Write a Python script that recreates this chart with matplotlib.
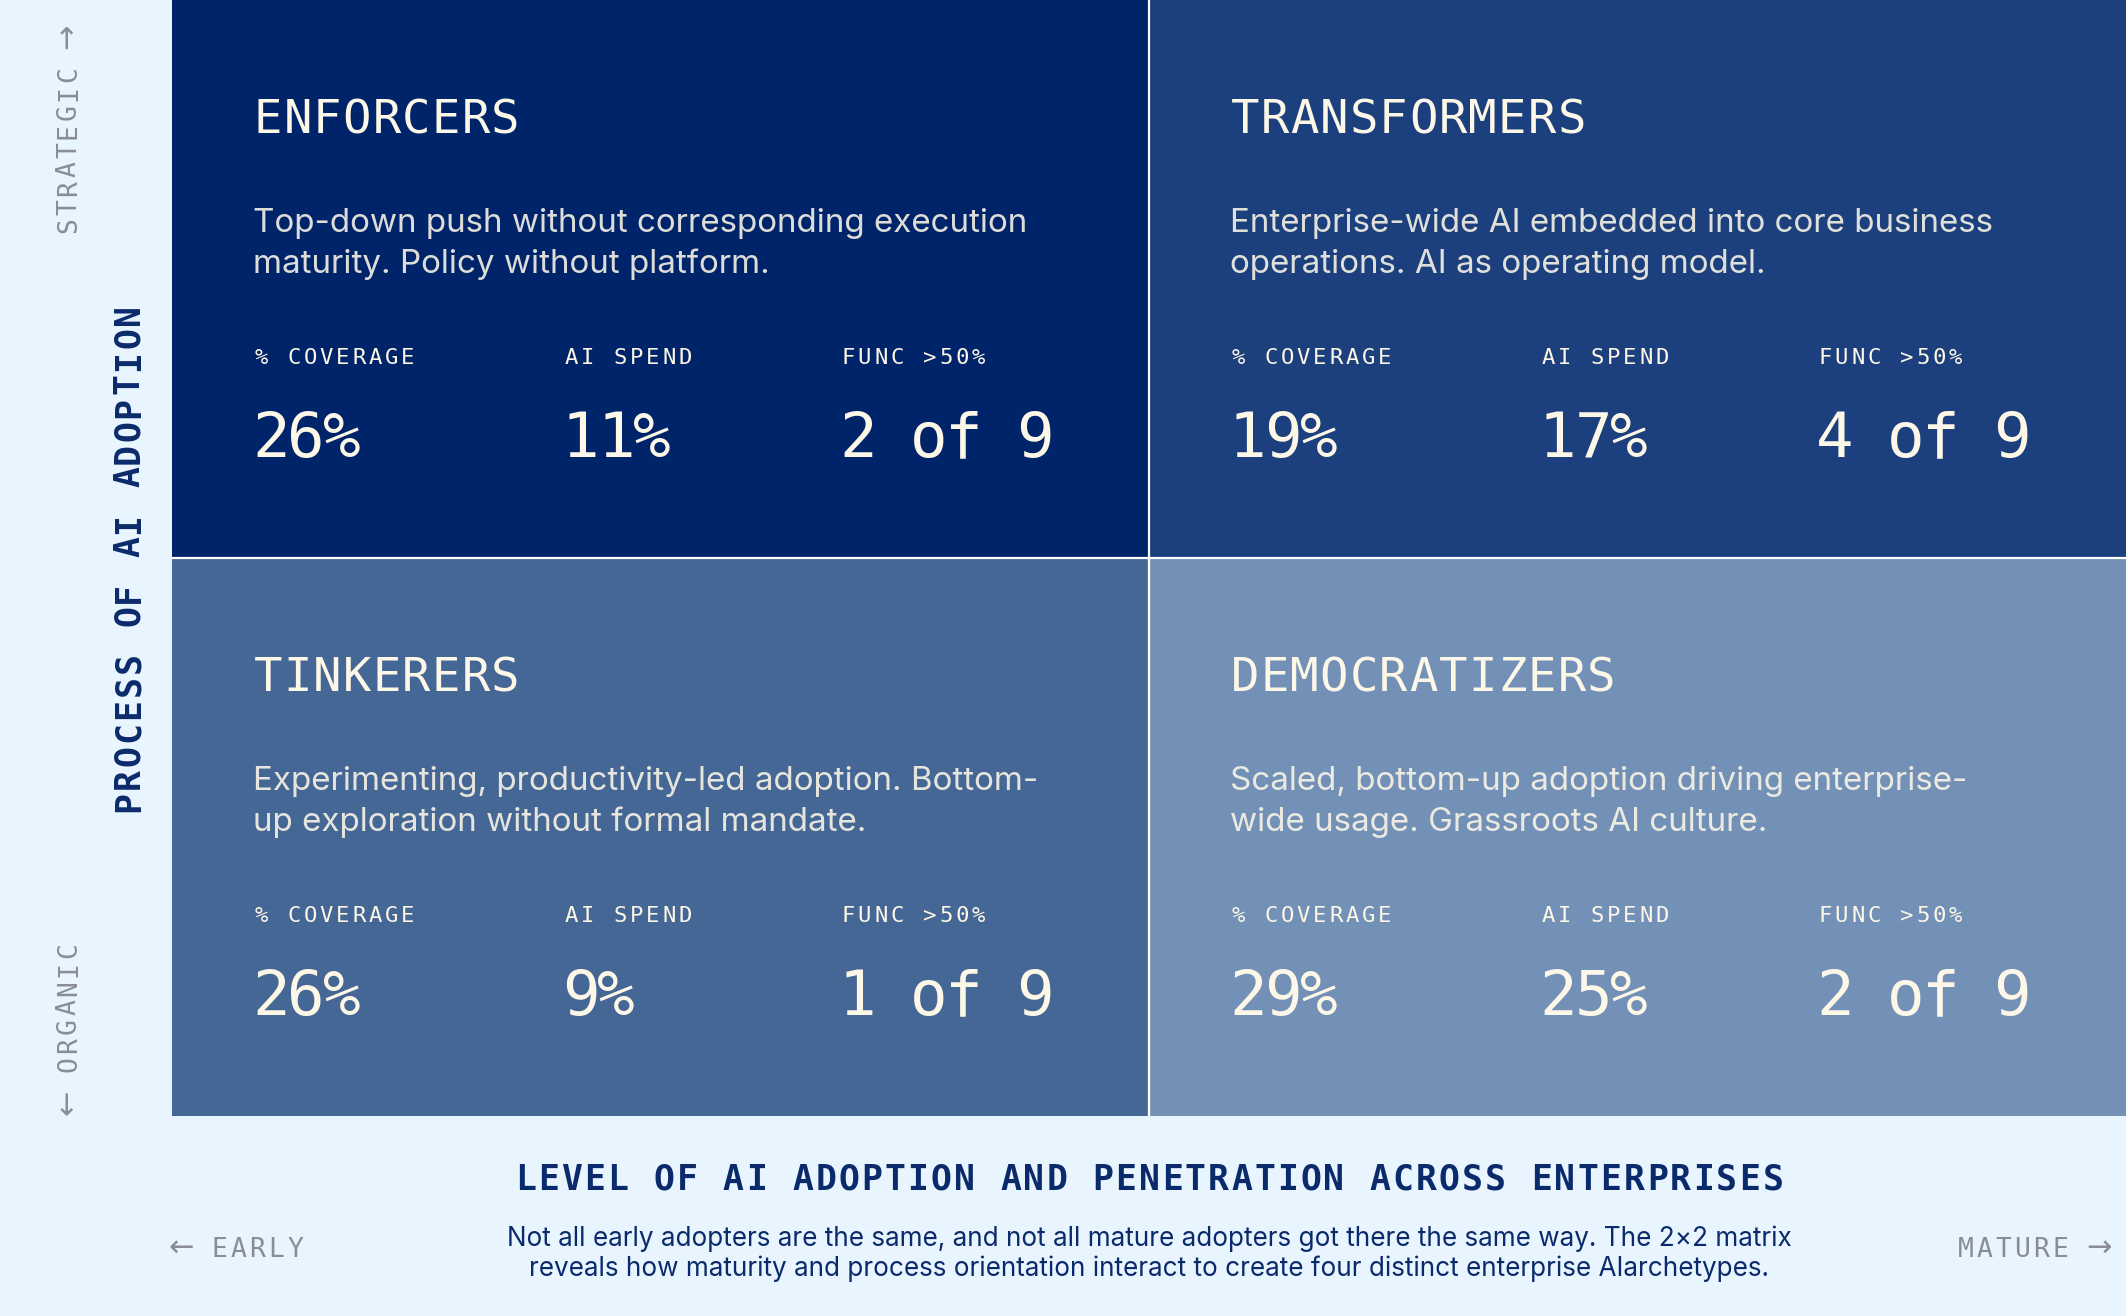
import matplotlib.pyplot as plt
from matplotlib.patches import Rectangle

# quadrant data (row-major: top-left, top-right, bottom-left, bottom-right)
names = ["ENFORCERS", "TRANSFORMERS", "TINKERERS", "DEMOCRATIZERS"]
descriptions = [
    ["Top-down push without corresponding execution", "maturity. Policy without platform."],
    ["Enterprise-wide AI embedded into core business", "operations. AI as operating model."],
    ["Experimenting, productivity-led adoption. Bottom-", "up exploration without formal mandate."],
    ["Scaled, bottom-up adoption driving enterprise-", "wide usage. Grassroots AI culture."],
]
coverage = [26, 19, 26, 29]
ai_spend = [11, 17, 9, 25]
func_over_50 = [2, 4, 1, 2]
func_total = 9
metric_labels = ["% COVERAGE", "AI SPEND", "FUNC >50%"]

quad_colors = ["#002469", "#1c3f7d", "#456795", "#7390b7"]
bg = "#e8f5fe"
cream = "#fdf7e8"
navy = "#0b2a6b"
grey = "#8a8e94"

title = "LEVEL OF AI ADOPTION AND PENETRATION ACROSS ENTERPRISES"
subtitle = ["Not all early adopters are the same, and not all mature adopters got there the same way. The 2\u00d72 matrix",
            "reveals how maturity and process orientation interact to create four distinct enterprise AIarchetypes."]

W, H = 2126, 1316
fig = plt.figure(figsize=(W / 100, H / 100), dpi=100)
fig.patch.set_facecolor(bg)
ax = fig.add_axes([0, 0, 1, 1])
ax.set_xlim(0, W)
ax.set_ylim(H, 0)
ax.axis("off")

MONO = "DejaVu Sans Mono"
SANS = "Inter"
ARROWS = "\u2190\u2192"


def spaced(x, y, s, size, pitch, color, weight="normal", rotate=False):
    # monospace text with extra tracking, one glyph at a time
    for i, ch in enumerate(s):
        if ch == " ":
            continue
        arrow = ch in ARROWS
        fs = size * 1.15 if arrow else size
        fam = "DejaVu Sans" if arrow else MONO
        if rotate:
            ax.text(x - (1 if arrow else 0), y - (i + 0.5) * pitch, ch, fontsize=fs, family=fam,
                    color=color, weight=weight, rotation=90, rotation_mode="anchor",
                    ha="center", va="baseline")
        else:
            ax.text(x + (i + 0.5) * pitch, y - (1 if arrow else 0), ch, fontsize=fs, family=fam,
                    color=color, weight=weight, ha="center", va="baseline")


grid_left, grid_top = 172, 0
cell_w, cell_h = (W - grid_left) / 2, 558

for k, name in enumerate(names):
    r, c = divmod(k, 2)
    x0 = grid_left + c * cell_w
    y0 = grid_top + r * cell_h
    ax.add_patch(Rectangle((x0, y0), cell_w, cell_h, facecolor=quad_colors[k], edgecolor="none"))
    tx = x0 + 81
    spaced(tx, y0 + 133, name, 34, 29.7, cream)
    for li, line in enumerate(descriptions[k]):
        ax.text(tx, y0 + 232 + li * 41, line, fontsize=23.9, family=SANS, color=cream, alpha=0.88,
                ha="left", va="baseline")
    values = [f"{coverage[k]}%", f"{ai_spend[k]}%", f"{func_over_50[k]} of {func_total}"]
    for j, (lab, val) in enumerate(zip(metric_labels, values)):
        mx = tx + [0, 310, 587][j]
        spaced(mx, y0 + 364, lab, 16, 16.3, cream)
        spaced(mx, y0 + 457, val, 45, 35.5, cream)

# white dividers between the quadrants
ax.plot([grid_left + cell_w] * 2, [grid_top, grid_top + 2 * cell_h], color="white", lw=1.6)
ax.plot([grid_left, W], [grid_top + cell_h] * 2, color="white", lw=1.6)

# left axis
spaced(76, 235, "STRATEGIC \u2192", 19, 18.9, grey, rotate=True)
spaced(76, 1112, "\u2190 ORGANIC", 19, 19.1, grey, rotate=True)
spaced(139, 558 + 11 * 23.2, "PROCESS OF AI ADOPTION", 25, 23.2, navy, weight="bold", rotate=True)

# bottom axis
spaced(172, 1257, "\u2190 EARLY", 19, 19, grey)
spaced(2108 - 8 * 19, 1257, "MATURE \u2192", 19, 19, grey)
cx = grid_left + cell_w
spaced(cx - len(title) * 23.1 / 2, 1190, title, 25, 23.1, navy, weight="bold")
for li, line in enumerate(subtitle):
    ax.text(cx, 1246 + li * 30, line, fontsize=18.8, family=SANS, color=navy,
            ha="center", va="baseline")

plt.savefig("out.png", dpi=100, facecolor=bg)
